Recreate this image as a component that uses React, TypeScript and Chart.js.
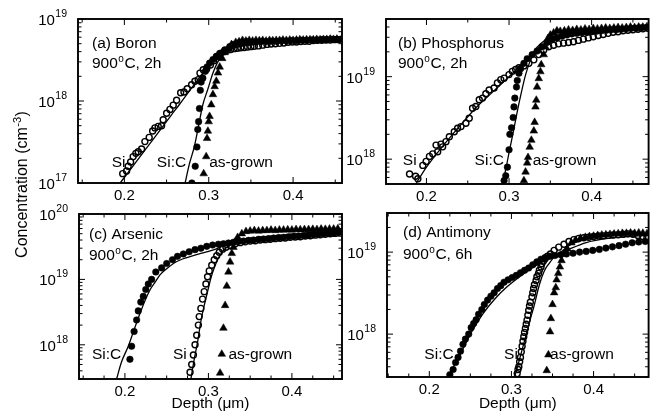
import React, { useEffect, useRef } from "react";
import { Chart, registerables } from "chart.js";

Chart.register(...registerables);

type Pt = [number, number]; // [depth (µm), concentration (cm^-3)]

const W = 654;
const H = 415;
const FONT = '"Liberation Sans", Arial, Helvetica, sans-serif';

// ---------- tick labels ----------
const X_TICK_LABELS = [0.2, 0.3, 0.4];
const DECADES_A = [17, 18, 19];
const DECADES_B = [18, 19];
const DECADES_C = [18, 19, 20];
const DECADES_D = [18, 19];

// ---------- (a) Boron ----------
const boronSi: Pt[] = [
  [0.198, 1.3e17], [0.2026, 1.4e17], [0.2045, 1.6e17], [0.2074, 1.8e17], [0.2104, 2.1e17], [0.2136, 2.3e17],
  [0.2164, 2.4e17], [0.2204, 2.6e17], [0.2243, 3.2e17], [0.2294, 3.6e17], [0.2335, 4.3e17], [0.2362, 4.7e17],
  [0.2401, 4.9e17], [0.2441, 5.0e17], [0.246, 5.9e17], [0.2501, 7.1e17], [0.254, 7.9e17], [0.2579, 8.9e17],
  [0.2619, 1.02e18], [0.2667, 1.26e18], [0.2706, 1.29e18], [0.2745, 1.41e18], [0.2797, 1.58e18], [0.2836, 1.74e18],
  [0.2875, 1.82e18], [0.2896, 2.19e18], [0.2935, 2.4e18], [0.2975, 2.45e18], [0.302, 2.75e18], [0.306, 3.1e18],
  [0.31, 3.5e18], [0.314, 3.8e18], [0.318, 4.0e18], [0.322, 4.15e18], [0.326, 4.25e18], [0.33, 4.35e18],
  [0.334, 4.4e18], [0.338, 4.45e18], [0.342, 4.5e18], [0.346, 4.55e18], [0.35, 4.6e18], [0.354, 4.65e18],
  [0.359, 4.7e18], [0.364, 4.8e18], [0.369, 4.9e18], [0.374, 4.95e18], [0.379, 5.0e18], [0.384, 5.05e18],
  [0.389, 5.1e18], [0.394, 5.2e18], [0.399, 5.25e18], [0.404, 5.25e18], [0.409, 5.3e18], [0.414, 5.35e18],
  [0.419, 5.35e18], [0.424, 5.45e18], [0.429, 5.5e18], [0.434, 5.5e18], [0.439, 5.55e18], [0.444, 5.55e18],
  [0.449, 5.6e18], [0.454, 5.6e18],
];
const boronSiC: Pt[] = [
  [0.28, 1.0e17], [0.284, 1.6e17], [0.286, 2.75e17], [0.287, 4.5e17], [0.288, 5.6e17], [0.289, 8.1e17],
  [0.29, 1.35e18], [0.291, 1.7e18], [0.293, 1.9e18], [0.296, 2.3e18], [0.298, 2.6e18], [0.301, 2.9e18],
  [0.305, 3.2e18], [0.309, 3.5e18], [0.313, 3.8e18], [0.319, 4.2e18], [0.325, 4.6e18], [0.33, 4.9e18],
  [0.335, 5.1e18], [0.34, 5.2e18], [0.345, 5.3e18], [0.35, 5.2e18], [0.356, 5.25e18], [0.362, 5.3e18],
  [0.368, 5.3e18], [0.374, 5.35e18], [0.38, 5.35e18], [0.386, 5.4e18], [0.392, 5.4e18], [0.398, 5.45e18],
  [0.404, 5.45e18], [0.41, 5.5e18], [0.416, 5.5e18], [0.422, 5.55e18], [0.428, 5.55e18], [0.434, 5.6e18],
  [0.44, 5.6e18], [0.446, 5.65e18], [0.452, 5.65e18], [0.457, 5.7e18],
];
const boronAsGrown: Pt[] = [
  [0.294, 1.3e17], [0.297, 2.1e17], [0.298, 3.5e17], [0.299, 4.3e17], [0.3, 5.6e17], [0.301, 6.5e17],
  [0.303, 9.0e17], [0.305, 1.2e18], [0.307, 1.5e18], [0.309, 1.75e18], [0.311, 2.2e18], [0.313, 2.6e18],
  [0.316, 3.3e18], [0.319, 3.9e18], [0.323, 4.4e18], [0.327, 4.9e18], [0.332, 5.2e18], [0.336, 5.3e18],
  [0.34, 5.5e18], [0.344, 5.4e18], [0.348, 5.5e18], [0.352, 5.4e18], [0.356, 5.5e18], [0.36, 5.45e18],
  [0.364, 5.5e18], [0.368, 5.4e18], [0.372, 5.5e18], [0.376, 5.45e18], [0.38, 5.5e18], [0.384, 5.5e18],
  [0.388, 5.55e18], [0.392, 5.5e18], [0.396, 5.55e18], [0.4, 5.5e18], [0.404, 5.55e18], [0.408, 5.6e18],
  [0.412, 5.55e18], [0.416, 5.6e18], [0.42, 5.6e18], [0.424, 5.6e18], [0.428, 5.65e18], [0.432, 5.6e18],
  [0.436, 5.65e18], [0.44, 5.65e18], [0.444, 5.7e18], [0.448, 5.65e18], [0.452, 5.7e18],
];
const boronSiFit: Pt[] = [
  [0.195, 1.0e17], [0.205, 1.37e17], [0.215, 1.87e17], [0.225, 2.57e17], [0.235, 3.5e17], [0.245, 4.8e17],
  [0.255, 6.6e17], [0.265, 9.0e17], [0.275, 1.24e18], [0.285, 1.7e18], [0.295, 2.35e18], [0.305, 3.0e18],
  [0.315, 3.6e18], [0.325, 4.2e18], [0.34, 4.7e18], [0.36, 5.0e18], [0.39, 5.25e18], [0.42, 5.5e18],
  [0.458, 5.75e18],
];
const boronSiCFit: Pt[] = [
  [0.272, 1.0e17], [0.277, 1.7e17], [0.283, 2.8e17], [0.288, 5.0e17], [0.293, 9.0e17], [0.299, 1.4e18],
  [0.305, 2.2e18], [0.31, 2.9e18], [0.315, 3.5e18], [0.32, 4.1e18], [0.327, 4.7e18], [0.335, 5.1e18],
  [0.35, 5.4e18], [0.38, 5.6e18], [0.42, 5.7e18], [0.458, 5.8e18],
];

// ---------- (b) Phosphorus ----------
const phosSi: Pt[] = [
  [0.1795, 6.6e17], [0.1868, 6.2e17], [0.1896, 5.8e17], [0.1956, 8.4e17], [0.1996, 9.4e17], [0.2036, 1.08e18],
  [0.2076, 1.16e18], [0.2116, 1.48e18], [0.2136, 1.23e18], [0.2176, 1.52e18], [0.2196, 1.41e18], [0.2236, 1.63e18],
  [0.2277, 1.87e18], [0.2337, 2.15e18], [0.2377, 2.37e18], [0.2418, 2.48e18], [0.2478, 2.72e18], [0.2518, 3.13e18],
  [0.2558, 4.15e18], [0.2598, 4.35e18], [0.2639, 5.25e18], [0.2679, 5.5e18], [0.2719, 6.2e18], [0.2759, 6.9e18],
  [0.2819, 7.3e18], [0.2859, 8.4e18], [0.29, 9.2e18], [0.294, 9.6e18], [0.3, 1.06e19], [0.304, 1.16e19],
  [0.308, 1.22e19], [0.312, 1.28e19], [0.318, 1.35e19], [0.324, 1.45e19], [0.33, 1.6e19], [0.336, 1.85e19],
  [0.342, 2.1e19], [0.348, 2.3e19], [0.354, 2.4e19], [0.36, 2.5e19], [0.366, 2.55e19], [0.372, 2.6e19],
  [0.378, 2.65e19], [0.384, 2.75e19], [0.39, 2.85e19], [0.396, 2.95e19], [0.402, 3.05e19], [0.408, 3.15e19],
  [0.414, 3.25e19], [0.42, 3.35e19], [0.426, 3.45e19], [0.432, 3.5e19], [0.438, 3.6e19], [0.444, 3.65e19],
  [0.45, 3.7e19], [0.456, 3.75e19], [0.462, 3.8e19], [0.468, 3.85e19],
];
const phosSiC: Pt[] = [
  [0.294, 5.5e17], [0.296, 6.3e17], [0.298, 8.0e17], [0.3, 1.3e18], [0.301, 2.0e18], [0.303, 2.4e18],
  [0.305, 3.2e18], [0.306, 4.3e18], [0.307, 5.5e18], [0.309, 7.5e18], [0.31, 9.0e18], [0.312, 1.1e19],
  [0.314, 1.25e19], [0.318, 1.45e19], [0.322, 1.65e19], [0.328, 1.85e19], [0.334, 2.05e19], [0.34, 2.3e19],
  [0.346, 2.6e19], [0.352, 2.8e19], [0.358, 2.95e19], [0.364, 3.1e19], [0.37, 3.2e19], [0.376, 3.3e19],
  [0.382, 3.35e19], [0.388, 3.4e19], [0.394, 3.45e19], [0.4, 3.5e19], [0.406, 3.55e19], [0.412, 3.6e19],
  [0.418, 3.65e19], [0.424, 3.7e19], [0.43, 3.7e19], [0.436, 3.75e19], [0.442, 3.8e19], [0.448, 3.85e19],
  [0.454, 3.85e19], [0.46, 3.9e19], [0.466, 3.95e19],
];
const phosAsGrown: Pt[] = [
  [0.318, 5.5e17], [0.32, 7.0e17], [0.322, 9.0e17], [0.323, 1.05e18], [0.325, 1.4e18], [0.327, 1.7e18],
  [0.33, 2.2e18], [0.331, 2.8e18], [0.332, 4.3e18], [0.333, 5.2e18], [0.334, 7.5e18], [0.336, 9.5e18],
  [0.338, 1.15e19], [0.339, 1.4e19], [0.342, 1.85e19], [0.344, 2.3e19], [0.347, 2.9e19], [0.35, 3.2e19],
  [0.354, 3.4e19], [0.358, 3.6e19], [0.362, 3.55e19], [0.367, 3.6e19], [0.372, 3.7e19], [0.377, 3.65e19],
  [0.382, 3.75e19], [0.387, 3.7e19], [0.392, 3.8e19], [0.397, 3.75e19], [0.402, 3.85e19], [0.407, 3.8e19],
  [0.412, 3.85e19], [0.417, 3.9e19], [0.422, 3.85e19], [0.427, 3.9e19], [0.432, 3.95e19], [0.437, 3.9e19],
  [0.442, 3.95e19], [0.447, 4.0e19], [0.452, 3.95e19], [0.457, 4.0e19], [0.462, 4.0e19], [0.467, 4.05e19],
];
const phosSiFit: Pt[] = [
  [0.187, 5.0e17], [0.2, 8.0e17], [0.22, 1.45e18], [0.24, 2.5e18], [0.26, 4.2e18], [0.28, 6.5e18],
  [0.3, 1.0e19], [0.315, 1.4e19], [0.33, 2.0e19], [0.345, 2.6e19], [0.36, 3.0e19], [0.38, 3.3e19],
  [0.4, 3.5e19], [0.43, 3.7e19], [0.469, 3.9e19],
];
const phosSiCFit: Pt[] = [
  [0.292, 5.0e17], [0.296, 7.5e17], [0.3, 1.2e18], [0.305, 2.1e18], [0.31, 3.8e18], [0.315, 6.5e18],
  [0.32, 1.05e19], [0.325, 1.5e19], [0.33, 2.0e19], [0.34, 2.6e19], [0.35, 3.0e19], [0.37, 3.3e19],
  [0.4, 3.6e19], [0.44, 3.8e19], [0.469, 3.95e19],
];

// ---------- (c) Arsenic ----------
const arsSi: Pt[] = [
  [0.278, 3.8e17], [0.28, 5.0e17], [0.282, 7.0e17], [0.284, 1.0e18], [0.286, 1.4e18], [0.288, 2.0e18],
  [0.289, 2.7e18], [0.291, 3.6e18], [0.293, 5.0e18], [0.295, 6.5e18], [0.297, 8.5e18], [0.299, 1.1e19],
  [0.301, 1.35e19], [0.304, 1.65e19], [0.307, 2.0e19], [0.31, 2.3e19], [0.313, 2.6e19], [0.317, 2.9e19],
  [0.321, 3.1e19], [0.326, 3.3e19], [0.332, 3.5e19], [0.338, 3.65e19], [0.344, 3.75e19], [0.35, 3.85e19],
  [0.356, 3.9e19], [0.362, 4.0e19], [0.368, 4.05e19], [0.374, 4.1e19], [0.38, 4.2e19], [0.386, 4.25e19],
  [0.392, 4.3e19], [0.398, 4.4e19], [0.404, 4.45e19], [0.41, 4.5e19], [0.416, 4.6e19], [0.422, 4.65e19],
  [0.428, 4.75e19], [0.434, 4.8e19], [0.44, 4.9e19], [0.446, 5.0e19], [0.452, 5.05e19], [0.458, 5.1e19],
];
const arsSiC: Pt[] = [
  [0.206, 6.0e17], [0.208, 9.5e17], [0.211, 1.6e18], [0.214, 2.4e18], [0.216, 3.3e18], [0.219, 4.5e18],
  [0.222, 5.5e18], [0.225, 7.0e18], [0.228, 8.5e18], [0.232, 1.0e19], [0.237, 1.3e19], [0.244, 1.5e19],
  [0.25, 1.75e19], [0.257, 2.0e19], [0.263, 2.25e19], [0.27, 2.45e19], [0.277, 2.65e19], [0.284, 2.85e19],
  [0.291, 3.0e19], [0.298, 3.2e19], [0.305, 3.35e19], [0.312, 3.45e19], [0.318, 3.5e19], [0.324, 3.6e19],
  [0.33, 3.7e19], [0.336, 3.8e19], [0.342, 3.85e19], [0.348, 3.95e19], [0.354, 4.0e19], [0.36, 4.1e19],
  [0.366, 4.15e19], [0.372, 4.2e19], [0.378, 4.3e19], [0.384, 4.35e19], [0.39, 4.4e19], [0.396, 4.5e19],
  [0.402, 4.55e19], [0.408, 4.6e19], [0.414, 4.7e19], [0.42, 4.75e19], [0.426, 4.85e19], [0.432, 4.9e19],
  [0.438, 5.0e19], [0.444, 5.05e19], [0.45, 5.1e19], [0.456, 5.2e19],
];
const arsAsGrown: Pt[] = [
  [0.314, 3.7e17], [0.316, 7.2e17], [0.318, 1.8e18], [0.32, 4.0e18], [0.322, 7.9e18], [0.324, 1.3e19],
  [0.326, 1.85e19], [0.328, 2.5e19], [0.33, 3.1e19], [0.332, 3.7e19], [0.335, 4.4e19], [0.34, 5.0e19],
  [0.345, 5.4e19], [0.35, 5.5e19], [0.355, 5.6e19], [0.36, 5.5e19], [0.365, 5.6e19], [0.37, 5.6e19],
  [0.375, 5.7e19], [0.38, 5.6e19], [0.385, 5.7e19], [0.39, 5.7e19], [0.395, 5.75e19], [0.4, 5.7e19],
  [0.405, 5.8e19], [0.41, 5.75e19], [0.415, 5.8e19], [0.42, 5.8e19], [0.425, 5.85e19], [0.43, 5.8e19],
  [0.435, 5.9e19], [0.44, 5.85e19], [0.445, 5.9e19], [0.45, 5.9e19], [0.455, 5.95e19],
];
const arsSiFit: Pt[] = [
  [0.279, 3.0e17], [0.283, 6.0e17], [0.287, 1.1e18], [0.291, 2.3e18], [0.295, 4.0e18], [0.299, 6.5e18],
  [0.303, 1.05e19], [0.307, 1.5e19], [0.311, 2.0e19], [0.316, 2.6e19], [0.322, 3.1e19], [0.33, 3.5e19],
  [0.34, 3.8e19], [0.36, 4.1e19], [0.39, 4.5e19], [0.42, 4.8e19], [0.46, 5.1e19],
];
const arsSiCFit: Pt[] = [
  [0.19, 3.0e17], [0.196, 5.5e17], [0.204, 9.5e17], [0.211, 1.7e18], [0.218, 3.0e18], [0.224, 4.7e18],
  [0.23, 6.9e18], [0.236, 9.0e18], [0.242, 1.17e19], [0.25, 1.45e19], [0.259, 1.78e19], [0.269, 2.05e19],
  [0.279, 2.25e19], [0.289, 2.45e19], [0.299, 2.65e19], [0.307, 2.85e19], [0.315, 3.15e19], [0.323, 3.5e19],
  [0.331, 3.8e19], [0.345, 4.1e19], [0.37, 4.4e19], [0.4, 4.7e19], [0.43, 4.9e19], [0.46, 5.1e19],
];

// ---------- (d) Antimony ----------
const antSi: Pt[] = [
  [0.307, 3.3e17], [0.308, 3.7e17], [0.309, 4.0e17], [0.31, 4.6e17], [0.311, 5.2e17], [0.312, 6.1e17],
  [0.313, 7.1e17], [0.314, 8.2e17], [0.315, 9.3e17], [0.316, 1.05e18], [0.317, 1.17e18], [0.318, 1.32e18],
  [0.319, 1.48e18], [0.32, 1.7e18], [0.321, 1.95e18], [0.322, 2.2e18], [0.323, 2.45e18], [0.325, 2.85e18],
  [0.326, 3.2e18], [0.327, 3.6e18], [0.328, 4.0e18], [0.33, 4.5e18], [0.331, 5.0e18], [0.333, 5.5e18],
  [0.334, 6.0e18], [0.336, 6.6e18], [0.337, 7.2e18], [0.339, 7.8e18], [0.341, 8.3e18], [0.344, 8.9e18],
  [0.3475, 9.5e18], [0.352, 1.05e19], [0.3576, 1.15e19], [0.364, 1.25e19], [0.37, 1.35e19], [0.376, 1.42e19],
  [0.382, 1.47e19], [0.388, 1.5e19], [0.394, 1.52e19], [0.4, 1.55e19], [0.406, 1.57e19], [0.412, 1.58e19],
  [0.418, 1.6e19], [0.424, 1.62e19], [0.43, 1.63e19], [0.436, 1.65e19], [0.442, 1.67e19], [0.448, 1.65e19],
  [0.454, 1.6e19], [0.46, 1.55e19], [0.465, 1.5e19],
];
const antSiC: Pt[] = [
  [0.225, 3.2e17], [0.229, 3.7e17], [0.232, 4.5e17], [0.235, 5.2e17], [0.238, 6.2e17], [0.241, 7.5e17],
  [0.244, 8.7e17], [0.248, 1.0e18], [0.251, 1.2e18], [0.254, 1.35e18], [0.257, 1.5e18], [0.26, 1.75e18],
  [0.264, 2.0e18], [0.267, 2.3e18], [0.271, 2.6e18], [0.275, 2.9e18], [0.279, 3.2e18], [0.283, 3.6e18],
  [0.287, 3.9e18], [0.291, 4.3e18], [0.296, 4.6e18], [0.301, 4.9e18], [0.306, 5.2e18], [0.311, 5.6e18],
  [0.316, 6.0e18], [0.321, 6.4e18], [0.326, 7.0e18], [0.331, 7.6e18], [0.336, 8.2e18], [0.341, 8.6e18],
  [0.347, 8.9e18], [0.353, 9.1e18], [0.36, 9.3e18], [0.367, 9.5e18], [0.375, 9.7e18], [0.383, 1.0e19],
  [0.391, 1.02e19], [0.399, 1.05e19], [0.407, 1.08e19], [0.415, 1.12e19], [0.423, 1.16e19], [0.431, 1.2e19],
  [0.439, 1.25e19], [0.447, 1.3e19], [0.455, 1.33e19], [0.463, 1.35e19],
];
const antAsGrown: Pt[] = [
  [0.343, 3.6e17], [0.345, 5.6e17], [0.347, 1.07e18], [0.348, 1.55e18], [0.35, 2.3e18], [0.352, 3.2e18],
  [0.354, 3.7e18], [0.355, 4.6e18], [0.357, 5.5e18], [0.359, 6.6e18], [0.361, 7.9e18], [0.364, 9.5e18],
  [0.368, 1.1e19], [0.373, 1.3e19], [0.378, 1.4e19], [0.384, 1.48e19], [0.39, 1.52e19], [0.395, 1.55e19],
  [0.4, 1.57e19], [0.405, 1.6e19], [0.41, 1.62e19], [0.415, 1.63e19], [0.42, 1.65e19], [0.425, 1.67e19],
  [0.43, 1.68e19], [0.435, 1.7e19], [0.44, 1.7e19], [0.445, 1.72e19], [0.45, 1.7e19], [0.455, 1.72e19],
  [0.46, 1.7e19], [0.465, 1.68e19],
];
const antSiFit: Pt[] = [
  [0.304, 3.0e17], [0.31, 5.0e17], [0.316, 8.3e17], [0.322, 1.4e18], [0.328, 2.3e18], [0.334, 4.0e18],
  [0.34, 5.9e18], [0.346, 7.3e18], [0.352, 8.7e18], [0.36, 1.0e19], [0.37, 1.2e19], [0.385, 1.4e19],
  [0.41, 1.55e19], [0.44, 1.62e19], [0.466, 1.65e19],
];
const antSiCFit: Pt[] = [
  [0.221, 2.9e17], [0.235, 5.0e17], [0.25, 1.0e18], [0.265, 1.75e18], [0.28, 2.7e18], [0.295, 3.8e18],
  [0.31, 5.0e18], [0.325, 6.4e18], [0.34, 7.8e18], [0.355, 9.2e18], [0.37, 1.08e19], [0.39, 1.3e19],
  [0.42, 1.48e19], [0.466, 1.6e19],
];

interface SeriesLabel { text: string; at: Pt }
interface Panel {
  name: string;
  temp: string;
  time: string;
  area: [number, number, number, number];
  xRange: [number, number];
  yRange: [number, number];
  decades: number[];
  xMinor: number;
  textAt: [number, number, number];
  si: Pt[]; siC: Pt[]; asGrown: Pt[]; siFit: Pt[]; siCFit: Pt[];
  labels: SeriesLabel[];
  depthLabel: boolean;
  yTitle: boolean;
}

const PANELS: Panel[] = [
  {
    name: "(a) Boron", temp: "900", time: "2h",
    area: [78, 19, 342, 183], xRange: [0.145, 0.458], yRange: [1e17, 1e19], decades: DECADES_A, xMinor: 0.05,
    textAt: [14, 29, 49],
    si: boronSi, siC: boronSiC, asGrown: boronAsGrown, siFit: boronSiFit, siCFit: boronSiCFit,
    labels: [
      { text: "Si", at: [0.185, 1.57e17] },
      { text: "Si:C", at: [0.2385, 1.57e17] },
      { text: "as-grown", at: [0.3006, 1.57e17] },
    ],
    depthLabel: false, yTitle: true,
  },
  {
    name: "(b) Phosphorus", temp: "900", time: "2h",
    area: [386, 19, 653, 184], xRange: [0.151, 0.469], yRange: [5e17, 5e19], decades: DECADES_B, xMinor: 0.05,
    textAt: [12, 29, 49],
    si: phosSi, siC: phosSiC, asGrown: phosAsGrown, siFit: phosSiFit, siCFit: phosSiCFit,
    labels: [
      { text: "Si", at: [0.1714, 8.5e17] },
      { text: "Si:C", at: [0.2583, 8.5e17] },
      { text: "as-grown", at: [0.3286, 8.5e17] },
    ],
    depthLabel: false, yTitle: false,
  },
  {
    name: "(c) Arsenic", temp: "900", time: "2h",
    area: [79, 214, 342, 379], xRange: [0.145, 0.46], yRange: [3e17, 1e20], decades: DECADES_C, xMinor: 0.025,
    textAt: [10, 25, 46],
    si: arsSi, siC: arsSiC, asGrown: arsAsGrown, siFit: arsSiFit, siCFit: arsSiCFit,
    labels: [
      { text: "Si:C", at: [0.1605, 6.0e17] },
      { text: "Si", at: [0.2575, 6.0e17] },
      { text: "as-grown", at: [0.324, 6.0e17] },
    ],
    depthLabel: true, yTitle: false,
  },
  {
    name: "(d) Antimony", temp: "900", time: "6h",
    area: [387, 213, 653, 377], xRange: [0.1485, 0.467], yRange: [3e17, 3e19], decades: DECADES_D, xMinor: 0.025,
    textAt: [16, 24, 46],
    si: antSi, siC: antSiC, asGrown: antAsGrown, siFit: antSiFit, siCFit: antSiCFit,
    labels: [
      { text: "Si:C", at: [0.194, 4.95e17] },
      { text: "Si", at: [0.291, 4.95e17] },
      { text: "as-grown", at: [0.347, 4.95e17] },
    ],
    depthLabel: true, yTitle: false,
  },
];

function decor(p: Panel) {
  return {
    id: "decor",
    afterDraw(chart: any) {
      const ctx: CanvasRenderingContext2D = chart.ctx;
      const { left, top, right, bottom } = chart.chartArea;
      const xs = chart.scales.x;
      const ys = chart.scales.y;
      ctx.save();
      ctx.strokeStyle = "#000";
      ctx.fillStyle = "#000";

      // inward ticks
      ctx.lineWidth = 1;
      ctx.beginPath();
      const [x0, x1] = p.xRange;
      for (let k = Math.ceil(x0 / p.xMinor - 1e-6); k * p.xMinor <= x1 + 1e-9; k++) {
        const v = k * p.xMinor;
        const px = xs.getPixelForValue(v);
        const major = Math.abs(v * 10 - Math.round(v * 10)) < 1e-6;
        const len = major ? 6 : 3.5;
        ctx.moveTo(px, bottom); ctx.lineTo(px, bottom - len);
        ctx.moveTo(px, top); ctx.lineTo(px, top + len);
      }
      const [y0, y1] = p.yRange;
      for (let e = Math.floor(Math.log10(y0)); e <= Math.ceil(Math.log10(y1)); e++) {
        for (let m = 1; m <= 9; m++) {
          const v = m * Math.pow(10, e);
          if (v < y0 * 0.999 || v > y1 * 1.001) continue;
          const py = ys.getPixelForValue(v);
          const len = m === 1 ? 6 : 3.5;
          ctx.moveTo(left, py); ctx.lineTo(left + len, py);
          ctx.moveTo(right, py); ctx.lineTo(right - len, py);
        }
      }
      ctx.stroke();

      // frame
      ctx.lineWidth = 1.9;
      ctx.strokeRect(left, top, right - left, bottom - top);

      // x tick labels
      ctx.textBaseline = "alphabetic";
      ctx.textAlign = "center";
      ctx.font = `15px ${FONT}`;
      for (const v of X_TICK_LABELS) {
        if (v < x0 || v > x1) continue;
        ctx.fillText(v.toFixed(1), xs.getPixelForValue(v), bottom + 17);
      }

      // y tick labels 10^n
      ctx.textAlign = "right";
      for (const e of p.decades) {
        const py = ys.getPixelForValue(Math.pow(10, e));
        ctx.font = `10.5px ${FONT}`;
        const ex = String(e);
        const ew = ctx.measureText(ex).width;
        ctx.fillText(ex, left - 11, py - 2);
        ctx.font = `15px ${FONT}`;
        ctx.fillText("10", left - 11 - ew - 0.5, py + 6);
      }

      // panel title
      ctx.textAlign = "left";
      ctx.font = `15.5px ${FONT}`;
      const tx = left + p.textAt[0];
      ctx.fillText(p.name, tx, top + p.textAt[1]);
      const by = top + p.textAt[2];
      let cx = tx;
      ctx.fillText(p.temp, cx, by);
      cx += ctx.measureText(p.temp).width;
      ctx.font = `10px ${FONT}`;
      ctx.fillText("o", cx + 0.5, by - 6);
      cx += ctx.measureText("o").width + 1;
      ctx.font = `15.5px ${FONT}`;
      ctx.fillText(`C, ${p.time}`, cx, by);

      // series labels
      for (const l of p.labels) {
        ctx.fillText(l.text, xs.getPixelForValue(l.at[0]), ys.getPixelForValue(l.at[1]));
      }

      // x axis title
      if (p.depthLabel) {
        ctx.textAlign = "center";
        ctx.fillText("Depth (\u03bcm)", (left + right) / 2, 408);
      }

      // y axis title (shared)
      if (p.yTitle) {
        ctx.save();
        ctx.translate(27, 185);
        ctx.rotate(-Math.PI / 2);
        ctx.textAlign = "left";
        ctx.font = `16px ${FONT}`;
        const a = "Concentration (cm";
        const wa = ctx.measureText(a).width;
        ctx.font = `11px ${FONT}`;
        const s = "-3";
        const ws = ctx.measureText(s).width;
        ctx.font = `16px ${FONT}`;
        const c = ")";
        const wc = ctx.measureText(c).width;
        let sx = -(wa + ws + wc) / 2;
        ctx.fillText(a, sx, 0);
        sx += wa;
        ctx.font = `11px ${FONT}`;
        ctx.fillText(s, sx + 0.5, -6.5);
        sx += ws + 1;
        ctx.font = `16px ${FONT}`;
        ctx.fillText(c, sx, 0);
        ctx.restore();
      }
      ctx.restore();
    },
  };
}

function makeChart(canvas: HTMLCanvasElement, p: Panel) {
  const [l, t, r, b] = p.area;
  const toXY = (a: Pt[]) => a.map(([x, y]) => ({ x, y }));
  const fitStyle = {
    showLine: true,
    pointRadius: 0,
    borderColor: "#000",
    borderWidth: 1.3,
    cubicInterpolationMode: "monotone" as const,
    fill: false,
  };
  return new Chart(canvas, {
    type: "scatter",
    data: {
      datasets: [
        { data: toXY(p.siFit), ...fitStyle },
        { data: toXY(p.siCFit), ...fitStyle },
        {
          data: toXY(p.si), pointStyle: "circle", pointRadius: 3,
          backgroundColor: "rgba(255,255,255,0)", borderColor: "#000", borderWidth: 1.4,
        },
        {
          data: toXY(p.siC), pointStyle: "circle", pointRadius: 3.3,
          backgroundColor: "#000", borderColor: "#000", borderWidth: 0.5,
        },
        {
          data: toXY(p.asGrown), pointStyle: "triangle", pointRadius: 4.4,
          backgroundColor: "#000", borderColor: "#000", borderWidth: 0.5,
        },
      ],
    },
    options: {
      animation: false,
      responsive: false,
      events: [],
      layout: { padding: { left: l, top: t, right: W - r, bottom: H - b } },
      plugins: { legend: { display: false }, tooltip: { enabled: false } },
      scales: {
        x: { type: "linear", display: false, min: p.xRange[0], max: p.xRange[1] },
        y: { type: "logarithmic", display: false, min: p.yRange[0], max: p.yRange[1] },
      },
    },
    plugins: [decor(p)],
  } as any);
}

function PanelCanvas({ panel }: { panel: Panel }) {
  const ref = useRef<HTMLCanvasElement>(null);
  useEffect(() => {
    if (!ref.current) return;
    const chart = makeChart(ref.current, panel);
    return () => chart.destroy();
  }, [panel]);
  return (
    <canvas
      ref={ref}
      width={W}
      height={H}
      style={{ position: "absolute", left: 0, top: 0, width: W, height: H }}
    />
  );
}

export default function App() {
  return (
    <div
      style={{
        position: "absolute", left: 0, top: 0, width: W, height: H,
        background: "#fff", overflow: "hidden",
      }}
    >
      {PANELS.map((p) => (
        <PanelCanvas key={p.name} panel={p} />
      ))}
    </div>
  );
}
